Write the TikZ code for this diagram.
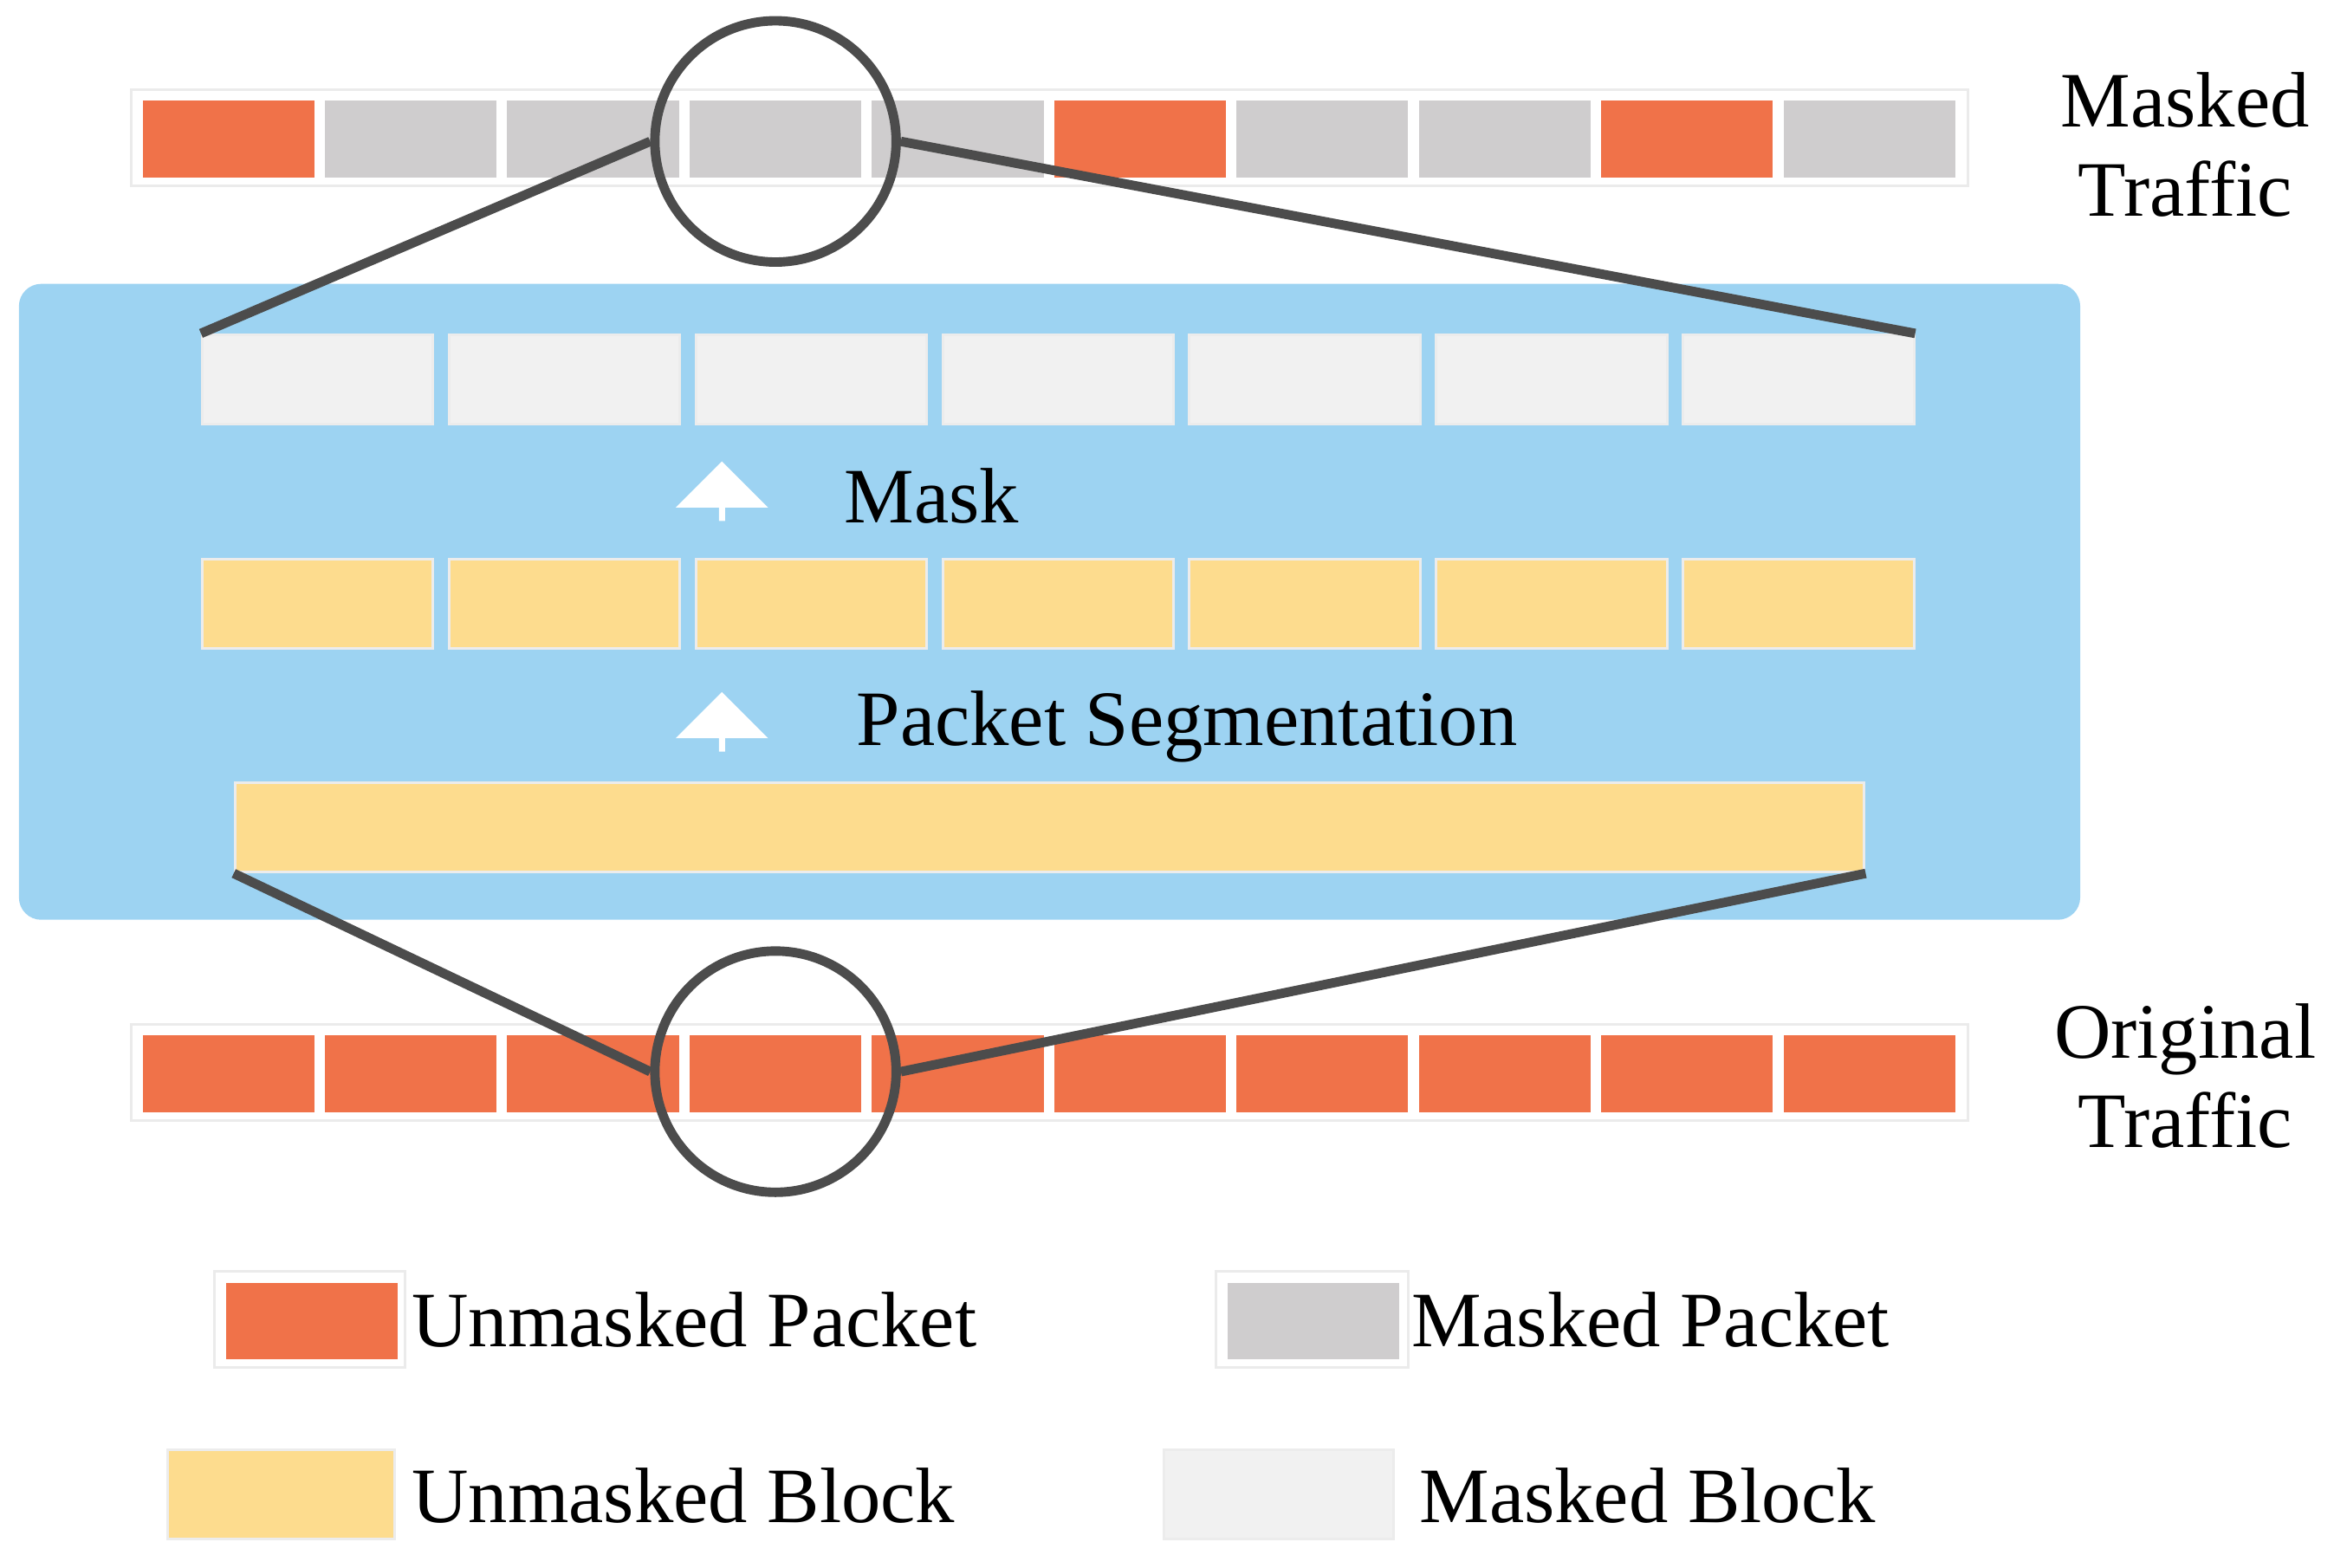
\documentclass[tikz,border=0pt]{standalone}
\usepackage{fontspec}
\setmainfont{Liberation Serif}
\usetikzlibrary{shapes.arrows}
\definecolor{pktorange}{HTML}{F07249}
\definecolor{pktgray}{HTML}{CFCDCE}
\definecolor{blkgray}{HTML}{F1F1F1}
\definecolor{blkyellow}{HTML}{FDDC8E}
\definecolor{panelblue}{HTML}{9DD3F2}
\begin{document}
\begin{tikzpicture}[x=0.01cm, y=-0.01cm,
	packet/.style={draw=white, line width=0.5pt, minimum width=1.17cm, minimum height=0.53cm, inner sep=0pt, anchor=north west},
	block/.style={draw=white!85!gray, line width=0.5pt, minimum width=1.55cm, minimum height=0.6cm, inner sep=0pt, anchor=north west},
	frame/.style={draw=black!8, line width=0.5pt},
	lens/.style={circle, draw=black!70, line width=1.8pt, minimum size=1.62cm, inner sep=0pt},
	zoom/.style={draw=black!70, line width=1.8pt},
	uparrow/.style={single arrow, fill=white, shape border rotate=90, minimum width=0.62cm, minimum height=0.4cm, single arrow head extend=0.1cm, inner sep=0pt},
	label/.style={font=\fontsize{15}{17}\selectfont, align=center}]
	\useasboundingbox (0,0) rectangle (1568,1053);
	% panel
	\node[fill=panelblue, rounded corners=0.15cm, minimum width=13.84cm, minimum height=4.27cm, anchor=north west, inner sep=0pt] (panel) at (12,190) {};
	% traffic rows
	\draw[frame] (88,60) rectangle (1322,125);
	\draw[frame] (88,688) rectangle (1322,753);
	\foreach \i/\c in {0/pktorange,1/pktgray,2/pktgray,3/pktgray,4/pktgray,5/pktorange,6/pktgray,7/pktgray,8/pktorange,9/pktgray}
	  \node[packet, fill=\c] (m\i) at ({94+122.5*\i},66) {};
	\foreach \i in {0,...,9}
	  \node[packet, fill=pktorange] (o\i) at ({94+122.5*\i},694) {};
	% blocks
	\foreach \i in {0,...,6} {
	  \node[block, fill=blkgray] (g\i) at ({135+165.8*\i},224) {};
	  \node[block, fill=blkyellow] (y\i) at ({135+165.8*\i},375) {};
	}
	\node[block, fill=blkyellow, minimum width=10.94cm] (bar) at (157,525) {};
	\node[uparrow] (a1) at (485,331) {};
	\node[uparrow] (a2) at (485,486) {};
	\node[label, anchor=west] (mask) at (555,333) {Mask};
	\node[label, anchor=west] (seg) at (563,488) {Packet Segmentation};
	% lenses
	\node[lens] (ltop) at (521,95) {};
	\node[lens] (lbot) at (521,720) {};
	\draw[zoom] (g0.north west) -- (ltop.west);
	\draw[zoom] (ltop.east) -- (g6.north east);
	\draw[zoom] (bar.south west) -- (lbot.west);
	\draw[zoom] (lbot.east) -- (bar.south east);
	\node[label] (mtxt) at (1468,97) {Masked\\Traffic};
	\node[label] (otxt) at (1468,723) {Original\\Traffic};
	% legend
	\draw[frame] (144,854) rectangle (272,919);
	\draw[frame] (817,854) rectangle (946,919);
	\node[packet, fill=pktorange] (k1) at (150,860) {};
	\node[packet, fill=pktgray] (k2) at (823,860) {};
	\node[block, fill=blkyellow, minimum width=1.52cm] (k3) at (112,973) {};
	\node[block, fill=blkgray, minimum width=1.54cm] (k4) at (781,973) {};
	\node[label, anchor=west, inner sep=0pt] (t1) at (276,887) {Unmasked Packet};
	\node[label, anchor=west, inner sep=0pt] (t2) at (948,887) {Masked Packet};
	\node[label, anchor=west, inner sep=0pt] (t3) at (276,1005) {Unmasked Block};
	\node[label, anchor=west, inner sep=0pt] (t4) at (953,1005) {Masked Block};
\end{tikzpicture}
\end{document}
